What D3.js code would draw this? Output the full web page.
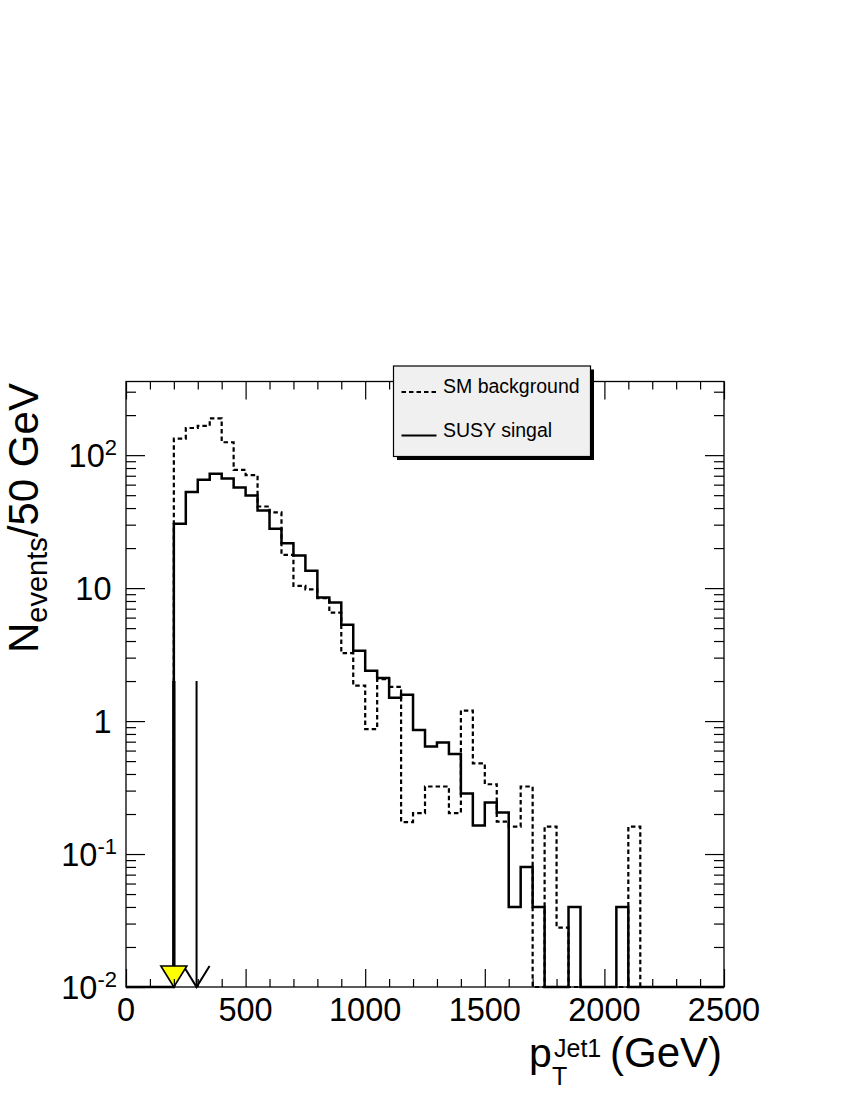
<!DOCTYPE html>
<meta charset="utf-8">

<!-- Load d3.js -->
<script src="https://d3js.org/d3.v7.min.js"></script>

<style>
  body { margin: 0; background: #fff; }
  text { font-family: "Liberation Sans", Arial, Helvetica, sans-serif; fill: #000; }
</style>

<!-- Create a div where the graph will take place -->
<div id="my_dataviz"></div>

<script>
    // histogram bins: 50 GeV wide, 0 - 2500 GeV
    var binWidth = 50
    var binLow = d3.range(0, 2500, binWidth)

    // events per bin (0 = empty bin)
    var smBackground = [0, 0, 0, 0, 133, 160, 166, 189, 125, 77.6,
        70.8, 41.1, 37.1, 17.8, 10.4, 9.8, 8.4, 6.55, 3.24, 1.85,
        0.87, 2.07, 1.81, 0.174, 0.203, 0.322, 0.322, 0.203, 1.20, 0.48,
        0.335, 0.175, 0.161, 0.322, 0, 0.161, 0.028, 0, 0, 0,
        0, 0, 0.161, 0, 0, 0, 0, 0, 0, 0]

    var susySignal = [0, 0, 0, 0, 30.5, 52.8, 65.3, 72.4, 66.8, 57.1,
        49.8, 38.4, 27.9, 21.7, 17.6, 13.5, 8.49, 7.80, 5.30, 3.38,
        2.39, 2.11, 1.50, 1.58, 0.856, 0.645, 0.691, 0.565, 0.285, 0.164,
        0.244, 0.205, 0.04, 0.08, 0.04, 0, 0, 0.04, 0, 0,
        0, 0.04, 0, 0, 0, 0, 0, 0, 0, 0]

    var xTicksMajor = [0, 500, 1000, 1500, 2000, 2500]
    var xTickLabels = ["0", "500", "1000", "1500", "2000", "2500"]
    var yTicksMajor = [0.01, 0.1, 1, 10, 100]
    // [base, exponent]
    var yTickLabels = [["10", "-2"], ["10", "-1"], ["1", ""], ["10", ""], ["10", "2"]]

    // cut arrows (GeV) and the height they start from
    var cutValues = [200, 295]
    var cutTop = 2

    var legendLabels = ["SM background", "SUSY singal"]

    // set the dimensions of the graph
    var width = 850
    var height = 1100
    var plotLeft = 126, plotRight = 724, plotTop = 381.5, plotBottom = 987

    var svg = d3.select("#my_dataviz")
        .append("svg")
        .attr("width", width)
        .attr("height", height)

    var x = d3.scaleLinear().domain([0, 2500]).range([plotLeft, plotRight])
    var y = d3.scaleLog().domain([0.01, 358]).range([plotBottom, plotTop])

    // minor ticks
    var xTicksMinor = d3.range(0, 2501, 100).filter(function(d) { return d % 500 != 0 })
    var yTicksMinor = []
    yTicksMajor.forEach(function(d) {
        for (var k = 2; k <= 9; k++) {
            if (k * d <= y.domain()[1]) yTicksMinor.push(k * d)
        }
    })

    // step outline of one histogram
    function stepPoints(values) {
        var pts = [[x(0), plotBottom]]
        values.forEach(function(v, i) {
            var yy = v > 0 ? y(v) : plotBottom
            pts.push([x(binLow[i]), yy])
            pts.push([x(binLow[i] + binWidth), yy])
        })
        pts.push([x(2500), plotBottom])
        return pts
    }
    var line = d3.line()

    svg.append("path")
        .attr("d", line(stepPoints(smBackground)))
        .attr("fill", "none")
        .attr("stroke", "black")
        .attr("stroke-width", 2.2)
        .attr("stroke-dasharray", "4.5,3")

    svg.append("path")
        .attr("d", line(stepPoints(susySignal)))
        .attr("fill", "none")
        .attr("stroke", "black")
        .attr("stroke-width", 2.5)

    // cut arrows
    // thin one with open head
    var c2 = x(cutValues[1])
    svg.append("line")
        .attr("x1", c2).attr("x2", c2)
        .attr("y1", y(cutTop)).attr("y2", plotBottom)
        .attr("stroke", "black").attr("stroke-width", 2)
    svg.append("path")
        .attr("d", line([[c2 - 13, plotBottom - 21], [c2, plotBottom], [c2 + 13, plotBottom - 21]]))
        .attr("fill", "none").attr("stroke", "black").attr("stroke-width", 2)

    // thick one with yellow head
    var c1 = x(cutValues[0])
    svg.append("line")
        .attr("x1", c1).attr("x2", c1)
        .attr("y1", y(cutTop)).attr("y2", plotBottom)
        .attr("stroke", "black").attr("stroke-width", 3.3)
    svg.append("path")
        .attr("d", line([[c1 - 13, plotBottom - 21], [c1 + 13, plotBottom - 21], [c1, plotBottom]]) + "Z")
        .attr("fill", "#ffff00").attr("stroke", "black").attr("stroke-width", 1.6)

    // axes, ticks on all four sides pointing inward
    function tickAxis(axis, values, size, transform) {
        var g = svg.append("g")
            .attr("transform", transform)
            .call(axis.tickValues(values).tickSize(size).tickSizeOuter(0).tickFormat(""))
        g.select(".domain").remove()
        g.selectAll("line").attr("stroke", "black").attr("stroke-width", 1.2)
    }
    tickAxis(d3.axisTop(x), xTicksMajor, 18, "translate(0," + plotBottom + ")")
    tickAxis(d3.axisTop(x), xTicksMinor, 8, "translate(0," + plotBottom + ")")
    tickAxis(d3.axisBottom(x), xTicksMajor, 18, "translate(0," + plotTop + ")")
    tickAxis(d3.axisBottom(x), xTicksMinor, 8, "translate(0," + plotTop + ")")
    tickAxis(d3.axisRight(y), yTicksMajor, 19, "translate(" + plotLeft + ",0)")
    tickAxis(d3.axisRight(y), yTicksMinor, 10, "translate(" + plotLeft + ",0)")
    tickAxis(d3.axisLeft(y), yTicksMajor, 19, "translate(" + plotRight + ",0)")
    tickAxis(d3.axisLeft(y), yTicksMinor, 10, "translate(" + plotRight + ",0)")

    svg.append("rect")
        .attr("x", plotLeft).attr("y", plotTop)
        .attr("width", plotRight - plotLeft).attr("height", plotBottom - plotTop)
        .attr("fill", "none").attr("stroke", "black").attr("stroke-width", 1.3)

    // tick labels
    svg.selectAll(".xlab")
        .data(xTicksMajor)
        .enter()
        .append("text")
        .attr("x", function(d) { return x(d) })
        .attr("y", 1021)
        .attr("text-anchor", "middle")
        .style("font-size", "32.5px")
        .text(function(d, i) { return xTickLabels[i] })

    yTicksMajor.forEach(function(d, i) {
        var lab = yTickLabels[i]
        var t = svg.append("text")
            .attr("x", lab[1] ? 117 : 111.5)
            .attr("y", y(d) + 12)
            .attr("text-anchor", "end")
            .style("font-size", "32.5px")
        t.append("tspan").text(lab[0])
        if (lab[1]) {
            t.append("tspan").attr("dy", -12).style("font-size", "22px").text(lab[1])
        }
    })

    // axis titles
    var yt = svg.append("text")
        .attr("transform", "translate(38,653) rotate(-90)")
        .style("font-size", "42px")
    yt.append("tspan").text("N")
    yt.append("tspan").attr("dy", 9).style("font-size", "29px").text("events")
    yt.append("tspan").attr("dy", -9).text("/50 GeV")

    svg.append("text")
        .attr("x", 529).attr("y", 1066.5)
        .style("font-size", "41px")
        .text("p")
    svg.append("text")
        .attr("x", 554).attr("y", 1056.5)
        .style("font-size", "25px")
        .text("Jet1")
    svg.append("text")
        .attr("x", 552).attr("y", 1085)
        .style("font-size", "25px")
        .text("T")
    svg.append("text")
        .attr("x", 722).attr("y", 1066.5)
        .attr("text-anchor", "end")
        .style("font-size", "42px")
        .text("(GeV)")

    // legend
    var lg = svg.append("g").attr("transform", "translate(393.5,366)")
    lg.append("rect")
        .attr("x", 3.5).attr("y", 3.5).attr("width", 197).attr("height", 90.5)
        .attr("fill", "black")
    lg.append("rect")
        .attr("width", 197).attr("height", 90.5)
        .attr("fill", "#f0f0f0").attr("stroke", "black").attr("stroke-width", 1.2)
    lg.selectAll(".lgline")
        .data(legendLabels)
        .enter()
        .append("line")
        .attr("x1", 8).attr("x2", 43)
        .attr("y1", function(d, i) { return 26 + i * 43.5 })
        .attr("y2", function(d, i) { return 26 + i * 43.5 })
        .attr("stroke", "black")
        .attr("stroke-width", 2.2)
        .attr("stroke-dasharray", function(d, i) { return i == 0 ? "4.5,3" : null })
    lg.selectAll(".lgtext")
        .data(legendLabels)
        .enter()
        .append("text")
        .attr("x", 49.5)
        .attr("y", function(d, i) { return 26.5 + i * 44.5 })
        .style("font-size", "19.5px")
        .text(function(d) { return d })
</script>
